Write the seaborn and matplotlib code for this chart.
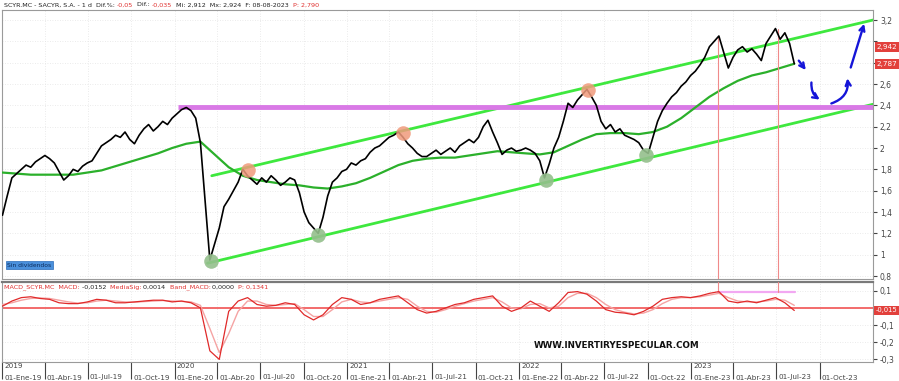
import pandas as pd
import matplotlib
matplotlib.use("Agg")
import matplotlib.pyplot as plt
import matplotlib.transforms as mtrans
import seaborn as sns

# closes, one every 10 days from 01-01-2019
PRICE_START = "2019-01-01"
price = [
    1.37, 1.55, 1.72, 1.76, 1.80, 1.84, 1.82, 1.87, 1.90, 1.93,
    1.90, 1.86, 1.78, 1.70, 1.74, 1.80, 1.78, 1.83, 1.86, 1.88,
    1.95, 2.02, 2.05, 2.08, 2.12, 2.10, 2.15, 2.08, 2.04, 2.12,
    2.18, 2.22, 2.16, 2.20, 2.25, 2.22, 2.28, 2.32, 2.36, 2.38,
    2.35, 2.28, 2.05, 1.50, 0.95, 1.10, 1.25, 1.45, 1.52, 1.60,
    1.68, 1.80, 1.74, 1.70, 1.66, 1.72, 1.68, 1.74, 1.70, 1.65,
    1.68, 1.72, 1.70, 1.58, 1.40, 1.30, 1.25, 1.20, 1.35, 1.55,
    1.68, 1.72, 1.78, 1.80, 1.86, 1.84, 1.88, 1.90, 1.96, 2.00,
    2.02, 2.06, 2.10, 2.12, 2.15, 2.10, 2.04, 2.00, 1.95, 1.92,
    1.92, 1.95, 1.98, 1.94, 1.97, 2.00, 1.96, 2.02, 2.05, 2.08,
    2.05, 2.10, 2.20, 2.26, 2.15, 2.05, 1.94, 1.98, 2.00, 1.97,
    1.98, 2.00, 1.98, 1.95, 1.88, 1.72, 1.85, 2.00, 2.10, 2.25,
    2.42, 2.38, 2.45, 2.50, 2.55, 2.48, 2.40, 2.25, 2.18, 2.22,
    2.15, 2.18, 2.12, 2.10, 2.08, 2.05, 1.98, 1.95, 2.10, 2.25,
    2.35, 2.42, 2.48, 2.52, 2.58, 2.62, 2.68, 2.72, 2.78, 2.85,
    2.95, 3.00, 3.05, 2.90, 2.75, 2.85, 2.92, 2.95, 2.90, 2.93,
    2.88, 2.82, 2.98, 3.05, 3.12, 3.02, 3.08, 2.98, 2.79,
]

# moving average, one every 30 days
mov_avg = [
    1.77, 1.76, 1.75, 1.75, 1.75, 1.75, 1.77, 1.79, 1.83, 1.87,
    1.91, 1.95, 2.00, 2.04, 2.06, 1.94, 1.82, 1.74, 1.70, 1.68,
    1.66, 1.65, 1.63, 1.62, 1.64, 1.67, 1.72, 1.78, 1.84, 1.88,
    1.90, 1.91, 1.91, 1.93, 1.95, 1.97, 1.96, 1.95, 1.94, 1.96,
    2.02, 2.08, 2.13, 2.14, 2.14, 2.13, 2.15, 2.20, 2.28, 2.38,
    2.48, 2.56, 2.63, 2.68, 2.71, 2.75, 2.79,
]

# MACD and signal, one every 20 days
macd = [
    0.010, 0.040, 0.060, 0.065, 0.055, 0.050, 0.030, 0.025, 0.025, 0.035,
    0.050, 0.045, 0.030, 0.030, 0.035, 0.040, 0.045, 0.045, 0.035, 0.040,
    0.030, 0.000, -0.250, -0.300, -0.020, 0.040, 0.060, 0.020, 0.010, 0.015,
    0.030, 0.020, -0.040, -0.070, -0.040, 0.020, 0.060, 0.050, 0.020, 0.030,
    0.050, 0.060, 0.070, 0.030, -0.010, -0.030, -0.020, 0.000, 0.020, 0.030,
    0.050, 0.060, 0.070, 0.010, -0.020, 0.000, 0.040, 0.010, -0.020, 0.030,
    0.090, 0.095, 0.080, 0.040, -0.010, -0.025, -0.030, -0.040, -0.020, 0.010,
    0.050, 0.060, 0.065, 0.060, 0.070, 0.085, 0.095, 0.040, 0.030, 0.040,
    0.030, 0.045, 0.060, 0.030, -0.015,
]
signal = [
    0.020, 0.030, 0.045, 0.055, 0.058, 0.055, 0.045, 0.035, 0.028, 0.030,
    0.040, 0.045, 0.040, 0.035, 0.033, 0.037, 0.040, 0.043, 0.040, 0.038,
    0.035, 0.015, -0.120, -0.260, -0.150, -0.020, 0.040, 0.040, 0.020, 0.015,
    0.020, 0.025, -0.010, -0.050, -0.050, -0.010, 0.035, 0.050, 0.035, 0.030,
    0.040, 0.050, 0.060, 0.050, 0.010, -0.020, -0.025, -0.010, 0.010, 0.025,
    0.040, 0.050, 0.060, 0.035, 0.000, -0.005, 0.020, 0.025, 0.000, 0.010,
    0.060, 0.085, 0.085, 0.060, 0.020, -0.010, -0.025, -0.035, -0.030, -0.010,
    0.025, 0.050, 0.060, 0.060, 0.065, 0.075, 0.085, 0.060, 0.040, 0.035,
    0.035, 0.040, 0.050, 0.045, 0.015,
]

# hand drawn annotations
upper_channel = (["2020-03-20", "2024-01-22"], [1.74, 3.20])
lower_channel = (["2020-03-11", "2024-01-22"], [0.92, 2.41])
resistance = 2.38
resistance_from = "2020-01-08"
highs_dates = ["2020-06-04", "2021-04-29", "2022-05-27"]
highs_vals = [1.79, 2.14, 2.54]
lows_dates = ["2020-03-18", "2020-11-01", "2022-02-27", "2022-09-27"]
lows_vals = [0.94, 1.18, 1.70, 1.93]
vlines = [("2023-02-27", 3.03), ("2023-07-05", 3.12)]
arrow_path = [
    (("2023-08-14", 2.84), ("2023-09-05", 2.71), 0.0),
    (("2023-09-14", 2.64), ("2023-10-06", 2.44), 0.35),
    (("2023-10-20", 2.41), ("2023-11-28", 2.68), 0.45),
    (("2023-12-04", 2.73), ("2024-01-05", 3.19), 0.0),
]
price_ticks = [0.8, 1.0, 1.2, 1.4, 1.6, 1.8, 2.0, 2.2, 2.4, 2.6, 2.8, 3.0, 3.2]
price_labels = ["0,8", "1", "1,2", "1,4", "1,6", "1,8", "2", "2,2", "2,4", "2,6", "", "", "3,2"]
macd_ticks = [0.1, 0.0, -0.1, -0.2, -0.3]
macd_labels = ["0,1", "", "-0,1", "-0,2", "-0,3"]
month_names = {1: "Ene", 4: "Abr", 7: "Jul", 10: "Oct"}

price_dates = pd.date_range(PRICE_START, periods=len(price), freq="10D")
ma_dates = pd.date_range(PRICE_START, periods=len(mov_avg), freq="30D")
macd_dates = pd.date_range(PRICE_START, periods=len(macd), freq="20D")

sns.set_style("white")
plt.rcParams["font.family"] = ["DejaVu Sans"]

W, H = 899, 381
fig = plt.figure(figsize=(W / 100, H / 100), dpi=100)


def px_box(x0, y0, x1, y1):
    return [x0 / W, 1 - y1 / H, (x1 - x0) / W, (y1 - y0) / H]


ax = fig.add_axes(px_box(2, 10, 873, 279))
axm = fig.add_axes(px_box(2, 282, 873, 362), sharex=ax)

xmin, xmax = pd.Timestamp("2018-12-31"), pd.Timestamp("2024-01-22")
grid_kw = dict(color="#e4e4e4", lw=0.6, ls=(0, (1, 2)))

# ---- price panel
ax.set_xlim(xmin, xmax)
ax.set_ylim(0.772, 3.294)
ax.grid(True, axis="both", **grid_kw)

ax.plot(pd.to_datetime(upper_channel[0]), upper_channel[1], color="#3ee83e", lw=2, zorder=2)
ax.plot(pd.to_datetime(lower_channel[0]), lower_channel[1], color="#3ee83e", lw=2, zorder=2)
ax.plot([pd.Timestamp(resistance_from), xmax], [resistance, resistance],
        color="#d979e6", lw=3.5, zorder=2, solid_capstyle="butt")

sns.lineplot(x=ma_dates, y=mov_avg, ax=ax, color="#2bb02b", lw=1.6, zorder=3)
sns.lineplot(x=price_dates, y=price, ax=ax, color="black", lw=1.2, zorder=4)

ax.scatter(pd.to_datetime(highs_dates), highs_vals, s=110, color="#f09a7c", alpha=0.85, zorder=5, lw=0)
ax.scatter(pd.to_datetime(lows_dates), lows_vals, s=110, color="#94bf8c", alpha=0.9, zorder=5, lw=0)

for d, top in vlines:
    ax.plot([pd.Timestamp(d), pd.Timestamp(d)], [top, 0.772], color="#f08a8a", lw=0.8, zorder=3)

for (s, e, rad) in arrow_path:
    ax.annotate("", xy=(pd.Timestamp(e[0]), e[1]), xytext=(pd.Timestamp(s[0]), s[1]),
                arrowprops=dict(arrowstyle="->", color="#1515d8", lw=1.7, mutation_scale=9,
                                connectionstyle=f"arc3,rad={rad}"), zorder=6)

ax.yaxis.tick_right()
ax.set_yticks(price_ticks, price_labels)
ax.tick_params(axis="y", labelsize=5.5, length=3, pad=2, colors="#444", direction="out", right=True)
ax.tick_params(axis="x", bottom=False, labelbottom=False)
ax.set_xlabel("")
ax.set_ylabel("")
for sp in ax.spines.values():
    sp.set_color("#9a9a9a")
    sp.set_linewidth(0.8)

yright = mtrans.blended_transform_factory(ax.transAxes, ax.transData)
for val, txt in [(2.946, "2,942"), (2.787, "2,787")]:
    ax.text(1.004, val, txt, transform=yright, fontsize=5.2, color="white", va="center", ha="left",
            bbox=dict(fc="#e2403c", ec="none", pad=1.2), zorder=10, clip_on=False)

ax.text(0.006, 0.052, "Sin dividendos", transform=ax.transAxes, fontsize=4.3, color="#0b2a5a",
        va="center", ha="left", bbox=dict(fc="#4a90dc", ec="#2a6cb8", lw=0.5, pad=1.2), zorder=10)

# ---- MACD panel
axm.set_ylim(-0.315, 0.151)
axm.grid(True, axis="both", **grid_kw)
axm.axhline(0, color="#f26060", lw=1.3, zorder=2)
axm.plot([pd.Timestamp(vlines[0][0]), pd.Timestamp("2023-08-10")], [0.095, 0.095],
         color="#f2a8f2", lw=1.6, zorder=2)
for d, top in vlines:
    axm.axvline(pd.Timestamp(d), ymin=(0.095 + 0.315) / 0.466, ymax=1, color="#f08a8a", lw=0.8, zorder=3)
sns.lineplot(x=macd_dates, y=signal, ax=axm, color="#f5a3a3", lw=1.0, zorder=3)
sns.lineplot(x=macd_dates, y=macd, ax=axm, color="#e02a2a", lw=0.9, zorder=4)

axm.yaxis.tick_right()
axm.set_yticks(macd_ticks, macd_labels)
axm.tick_params(axis="y", labelsize=5.5, length=3, pad=2, colors="#444", direction="out", right=True)
axm.set_xlabel("")
axm.set_ylabel("")
for sp in axm.spines.values():
    sp.set_color("#9a9a9a")
    sp.set_linewidth(0.8)
axm.spines["top"].set_color("#7a7a7a")
axm.spines["top"].set_linewidth(1.6)

myright = mtrans.blended_transform_factory(axm.transAxes, axm.transData)
axm.text(1.003, -0.015, "-0,015", transform=myright, fontsize=4.9, color="white", va="center", ha="left",
         bbox=dict(fc="#e2403c", ec="none", pad=1.0), zorder=10, clip_on=False)

axm.text(0.706, 0.2, "WWW.INVERTIRYESPECULAR.COM", transform=axm.transAxes, fontsize=6.3,
         fontweight="bold", color="#111", ha="center", va="center", zorder=10)

# date axis
quarters = pd.date_range("2019-01-01", "2023-10-01", freq="QS")
axm.set_xticks(quarters, [f"01-{month_names[d.month]}-{d.strftime('%y')}" for d in quarters])
axm.tick_params(axis="x", labelsize=5.2, length=12, pad=-3, colors="#444", direction="out", bottom=True)
shift = mtrans.ScaledTranslation(2 / 100, 0, fig.dpi_scale_trans)
for lab in axm.get_xticklabels():
    lab.set_horizontalalignment("left")
    lab.set_transform(lab.get_transform() + shift)
xbottom = mtrans.blended_transform_factory(axm.transData, axm.transAxes)
for yr in ["2019", "2020", "2021", "2022", "2023"]:
    axm.text(pd.Timestamp(f"{yr}-01-01"), -0.055, yr, transform=xbottom + shift, fontsize=5.2,
             color="#444", ha="left", va="center", clip_on=False)


def chain_text(target, parts, xy, fs):
    # pieces of text placed one after another, each with its own colour
    prev = None
    for txt, col in parts:
        if prev is None:
            prev = target.annotate(txt, xy=xy, xycoords="figure pixels", fontsize=fs, color=col,
                                   va="center", ha="left", annotation_clip=False, zorder=10)
        else:
            prev = target.annotate(txt, xy=(1, 0.5), xycoords=prev, fontsize=fs, color=col,
                                   va="center", ha="left", annotation_clip=False, zorder=10)


red = "#e0302f"
dark = "#222222"
chain_text(ax, [("SCYR.MC - SACYR, S.A. - 1 d  Dif.%: ", dark), ("-0,05", red), ("  Dif.: ", dark),
                ("-0,035", red), ("  Mi: 2,912  Mx: 2,924  F: 08-08-2023  ", dark), ("P: 2,790", red)],
           (4, H - 5), 4.6)
chain_text(axm, [("MACD_SCYR.MC  MACD: ", red), ("-0,0152  ", dark), ("MediaSig: ", red),
                 ("0,0014  ", dark), ("Band_MACD: ", red), ("0,0000  ", dark), ("P: 0,1341", red)],
           (4, H - 287), 4.6)

fig.savefig("out.png", dpi=100)
